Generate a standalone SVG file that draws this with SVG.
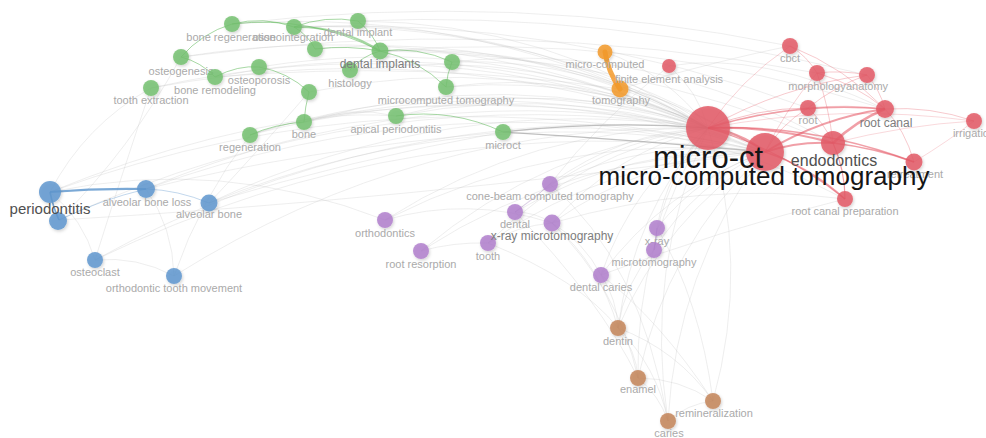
<svg xmlns="http://www.w3.org/2000/svg" width="986" height="438" viewBox="0 0 986 438">
<style>
.e{fill:none;stroke:#bdbdbd;stroke-opacity:.32;stroke-width:.8}
.ed{fill:none;stroke:#8a8a8a;stroke-opacity:.55;stroke-width:1.2}
.er{fill:none;stroke:#e3505e;stroke-opacity:.55;stroke-width:1}
.eg{fill:none;stroke:#5fb85a;stroke-opacity:.55;stroke-width:1}
.eb{fill:none;stroke:#4f8cc8;stroke-opacity:.75;stroke-width:1.6}
.eo{fill:none;stroke:#f39a2b;stroke-opacity:.85;stroke-width:5;stroke-linecap:round}
.ep{fill:none;stroke:#9a6cc0;stroke-opacity:.6;stroke-width:1}
.n{fill-opacity:.85;filter:url(#sh)}
.g{fill:#74c170}.r{fill:#e35a66}.b{fill:#5f97cf}.p{fill:#b07fcc}.o{fill:#f39a2b}.w{fill:#c4855a}
text{font-family:"Liberation Sans",Arial,sans-serif;text-anchor:middle}
.l{font-size:11px;fill:#aaaaaa}
.m{font-size:12px;fill:#7d7d7d}
.k{font-size:15px;fill:#505050}
.big{fill:#151515}
</style>
<defs>
<filter id="sh" x="-50%" y="-50%" width="200%" height="200%">
<feDropShadow dx="1" dy="1.5" stdDeviation="1.5" flood-color="#000" flood-opacity=".2"/>
</filter>
</defs>
<rect width="986" height="438" fill="#fff"/>
<g id="connectors">
<path class="e" d="M232 24Q486 5 708 128"/>
<path class="e" d="M294 27Q516 15 708 128"/>
<path class="e" d="M358 21Q549 22 708 128"/>
<path class="e" d="M315 49Q523 30 708 128"/>
<path class="e" d="M380 51Q556 40 708 128"/>
<path class="e" d="M350 70Q538 45 708 128"/>
<path class="e" d="M181 57Q455 13 708 128"/>
<path class="e" d="M215 77Q469 29 708 128"/>
<path class="e" d="M259 67Q493 30 708 128"/>
<path class="e" d="M151 88Q436 24 708 128"/>
<path class="e" d="M309 92Q514 50 708 128"/>
<path class="e" d="M304 122Q507 64 708 128"/>
<path class="e" d="M250 135Q478 63 708 128"/>
<path class="e" d="M452 62Q590 57 708 128"/>
<path class="e" d="M446 87Q583 68 708 128"/>
<path class="e" d="M396 116Q554 75 708 128"/>
<path class="ed" d="M503 132Q605 120 708 128"/>
<path class="e" d="M50 192Q369 61 708 128"/>
<path class="e" d="M59 220Q370 77 708 128"/>
<path class="e" d="M146 189Q418 74 708 128"/>
<path class="e" d="M209 203Q447 91 708 128"/>
<path class="e" d="M95 260Q382 102 708 128"/>
<path class="e" d="M174 276Q419 122 708 128"/>
<path class="e" d="M550 184Q621 132 708 128"/>
<path class="e" d="M515 212Q599 141 708 128"/>
<path class="e" d="M552 223Q616 152 708 128"/>
<path class="e" d="M385 220Q533 126 708 128"/>
<path class="e" d="M421 251Q546 146 708 128"/>
<path class="e" d="M488 243Q581 152 708 128"/>
<path class="e" d="M657 228Q667 170 708 128"/>
<path class="e" d="M654 250Q663 181 708 128"/>
<path class="e" d="M601 275Q632 185 708 128"/>
<path class="e" d="M618 328Q633 214 708 128"/>
<path class="e" d="M638 378Q635 242 708 128"/>
<path class="e" d="M708 128Q751 264 713 401"/>
<path class="e" d="M668 421Q644 268 708 128"/>
<path class="e" d="M605 52Q668 74 708 128"/>
<path class="e" d="M620 89Q670 95 708 128"/>
<path class="e" d="M669 66Q698 91 708 128"/>
<path class="e" d="M50 192Q401 65 765 152"/>
<path class="e" d="M146 189Q450 78 765 152"/>
<path class="e" d="M209 203Q479 94 765 152"/>
<path class="e" d="M304 122Q539 68 765 152"/>
<path class="e" d="M250 135Q510 66 765 152"/>
<path class="e" d="M380 51Q588 44 765 152"/>
<path class="e" d="M294 27Q548 19 765 152"/>
<path class="e" d="M396 116Q586 79 765 152"/>
<path class="ed" d="M503 132Q637 140 765 152"/>
<path class="e" d="M552 223Q648 155 765 152"/>
<path class="e" d="M515 212Q631 144 765 152"/>
<path class="e" d="M488 243Q613 156 765 152"/>
<path class="e" d="M618 328Q665 218 765 152"/>
<path class="e" d="M638 378Q667 246 765 152"/>
<path class="e" d="M601 275Q664 189 765 152"/>
<path class="e" d="M654 250Q695 184 765 152"/>
<path class="e" d="M385 220Q565 129 765 152"/>
<path class="e" d="M95 260Q414 105 765 152"/>
<path class="e" d="M151 88Q468 28 765 152"/>
<path class="e" d="M446 87Q615 72 765 152"/>
<path class="e" d="M668 421Q676 272 765 152"/>
<path class="e" d="M550 184Q653 136 765 152"/>
<path class="e" d="M421 251Q578 150 765 152"/>
<path class="e" d="M657 228Q700 174 765 152"/>
<path class="e" d="M59 220Q400 200 765 152"/>
<path class="e" d="M50 192Q83 219 95 260"/>
<path class="e" d="M146 189Q173 228 174 276"/>
<path class="e" d="M95 260Q137 256 174 276"/>
<path class="e" d="M50 192Q85 125 151 88"/>
<path class="e" d="M50 192Q222 156 385 220"/>
<path class="e" d="M385 220Q468 196 552 223"/>
<path class="e" d="M421 251Q453 242 488 243"/>
<path class="e" d="M488 243Q517 226 552 223"/>
<path class="e" d="M515 212Q535 212 552 223"/>
<path class="e" d="M601 275Q617 299 618 328"/>
<path class="e" d="M618 328Q636 350 638 378"/>
<path class="e" d="M638 378Q659 395 668 421"/>
<path class="e" d="M638 378Q679 378 713 401"/>
<path class="e" d="M668 421Q687 404 713 401"/>
<path class="e" d="M618 328Q677 350 713 401"/>
<path class="e" d="M552 223Q601 266 618 328"/>
<path class="e" d="M552 223Q584 242 601 275"/>
<path class="e" d="M618 328Q657 367 668 421"/>
<path class="e" d="M618 328Q624 284 654 250"/>
<path class="e" d="M552 223Q618 288 638 378"/>
<path class="e" d="M657 228Q700 300 713 401"/>
<path class="e" d="M550 184Q640 260 668 421"/>
<path class="e" d="M515 212Q600 300 638 378"/>
<path class="e" d="M488 243Q580 280 618 328"/>
<path class="e" d="M601 275Q660 320 713 401"/>
<path class="e" d="M215 77Q419 60 620 89"/>
<path class="e" d="M232 24Q513 -10 790 46"/>
<path class="e" d="M294 27Q559 16 808 108"/>
<path class="e" d="M380 51Q638 30 885 109"/>
<path class="e" d="M380 51Q616 52 833 143"/>
<path class="e" d="M181 57Q500 14 817 73"/>
<path class="e" d="M358 21Q600 10 867 75"/>
<path class="e" d="M452 62Q650 40 833 143"/>
<path class="e" d="M503 132Q680 110 845 199"/>
<path class="e" d="M552 223Q700 180 845 199"/>
<path class="e" d="M146 189Q300 150 503 132"/>
<path class="e" d="M209 203Q350 160 503 132"/>
<path class="e" d="M250 135Q320 110 396 116"/>
<path class="e" d="M304 122Q350 105 396 116"/>
<path class="e" d="M550 184Q600 120 669 66"/>
<path class="e" d="M620 89Q720 60 790 46"/>
<path class="e" d="M601 275Q720 230 845 199"/>
<path class="e" d="M669 66Q760 50 885 109"/>
<path class="e" d="M151 88Q120 180 95 260"/>
<path class="e" d="M181 57Q130 150 59 220"/>
<path class="e" d="M250 135Q200 200 174 276"/>
<path class="e" d="M309 92Q250 160 209 203"/>
<path class="eg" d="M232 24Q263 16 294 27"/>
<path class="eg" d="M294 27Q325 15 358 21"/>
<path class="eg" style="stroke-width:2" d="M294 27Q341 26 380 51"/>
<path class="eg" d="M294 27Q308 35 315 49"/>
<path class="eg" d="M358 21Q373 33 380 51"/>
<path class="eg" d="M232 24Q310 15 380 51"/>
<path class="eg" d="M350 70Q362 56 380 51"/>
<path class="eg" d="M315 49Q348 45 380 51"/>
<path class="eg" d="M380 51Q417 46 452 62"/>
<path class="eg" d="M181 57Q201 62 215 77"/>
<path class="eg" d="M215 77Q238 65 259 67"/>
<path class="eg" d="M181 57Q202 33 232 24"/>
<path class="eg" d="M259 67Q288 72 309 92"/>
<path class="eg" d="M304 122Q305 107 309 92"/>
<path class="eg" d="M250 135Q275 124 304 122"/>
<path class="eg" d="M446 87Q447 74 452 62"/>
<path class="eg" d="M396 116Q452 108 503 132"/>
<path class="eg" d="M380 51Q418 59 446 87"/>
<path class="eb" style="stroke-width:2.2" d="M50 192Q98 188 146 189"/>
<path class="eb" d="M50 192Q53 207 59 220"/>
<path class="eb" style="stroke-opacity:.35;stroke-width:1" d="M59 220Q100 200 146 189"/>
<path class="eb" style="stroke-opacity:.35;stroke-width:1" d="M146 189Q178 190 209 203"/>
<path class="ep" d="M654 250Q656 239 657 228"/>
<path class="ep" style="stroke-opacity:.3" d="M515 212Q533 200 550 184"/>
<path class="eo" d="M605 52Q608 72 620 89"/>
<path class="er" style="stroke-width:2.5" d="M708 128Q740 132 765 152"/>
<path class="er" style="stroke-width:2" d="M708 128Q772 126 833 143"/>
<path class="er" style="stroke-width:1.5" d="M708 128Q795 101 885 109"/>
<path class="er" style="stroke-width:1.5" d="M708 128Q814 124 914 162"/>
<path class="er" style="stroke-width:2" d="M765 152Q798 141 833 143"/>
<path class="er" style="stroke-width:2" d="M765 152Q821 118 885 109"/>
<path class="er" style="stroke-width:1.5" d="M765 152Q810 167 845 199"/>
<path class="er" style="stroke-width:2.5" d="M833 143Q856 121 885 109"/>
<path class="er" style="stroke-width:1.5" d="M833 143Q875 148 914 162"/>
<path class="er" style="stroke-width:1.2" d="M833 143Q845 170 845 199"/>
<path class="er" style="stroke-width:1.2" d="M708 128Q784 150 845 199"/>
<path class="er" style="stroke-opacity:.3" d="M885 109Q930 106 974 121"/>
<path class="er" style="stroke-opacity:.3" d="M808 108Q846 104 885 109"/>
<path class="er" style="stroke-opacity:.3" d="M817 73Q855 84 885 109"/>
<path class="er" style="stroke-opacity:.3" d="M867 75Q880 90 885 109"/>
<path class="er" style="stroke-opacity:.3" d="M790 46Q807 56 817 73"/>
<path class="er" style="stroke-opacity:.3" d="M790 46Q845 68 885 109"/>
<path class="er" style="stroke-opacity:.35" d="M708 128Q756 108 808 108"/>
<path class="er" style="stroke-opacity:.3" d="M808 108Q824 123 833 143"/>
<path class="er" style="stroke-opacity:.3" d="M817 73Q829 107 833 143"/>
<path class="er" style="stroke-opacity:.3" d="M708 128Q782 86 867 75"/>
<path class="er" style="stroke-opacity:.22" d="M708 128Q840 103 974 121"/>
<path class="er" style="stroke-opacity:.22" d="M833 143Q905 125 974 121"/>
<path class="er" style="stroke-opacity:.3" d="M765 152Q780 125 808 108"/>
<path class="er" style="stroke-opacity:.3" d="M885 109Q905 130 914 162"/>
<path class="er" style="stroke-opacity:.3" d="M817 73Q842 70 867 75"/>
<path class="er" style="stroke-opacity:.3" d="M808 108Q835 86 867 75"/>
<path class="er" style="stroke-opacity:.25" d="M708 128Q740 80 790 46"/>
<path class="er" style="stroke-opacity:.25" d="M765 152Q785 110 817 73"/>
<path class="er" style="stroke-opacity:.22" d="M914 162Q950 140 974 121"/>
</g>
<g id="n-bone-regeneration"><circle class="n g" cx="232" cy="24" r="8"/><text class="l" x="231" y="41">bone regeneration</text></g>
<g id="n-osseointegration"><circle class="n g" cx="294" cy="27" r="8"/><text class="l" x="293" y="41">osseointegration</text></g>
<g id="n-dental-implant"><circle class="n g" cx="358" cy="21" r="8"/><text class="l" x="358" y="36">dental implant</text></g>
<g id="n-green-a"><circle class="n g" cx="315" cy="49" r="8"/></g>
<g id="n-histology"><circle class="n g" cx="350" cy="70" r="8"/><text class="l" x="350" y="87">histology</text></g>
<g id="n-dental-implants"><circle class="n g" cx="380" cy="51" r="8.5"/><text class="m" x="380" y="68">dental implants</text></g>
<g id="n-osteogenesis"><circle class="n g" cx="181" cy="57" r="8"/><text class="l" x="181" y="75">osteogenesis</text></g>
<g id="n-bone-remodeling"><circle class="n g" cx="215" cy="77" r="8"/><text class="l" x="215" y="94">bone remodeling</text></g>
<g id="n-osteoporosis"><circle class="n g" cx="259" cy="67" r="8"/><text class="l" x="259" y="84">osteoporosis</text></g>
<g id="n-tooth-extraction"><circle class="n g" cx="151" cy="88" r="8"/><text class="l" x="151" y="104">tooth extraction</text></g>
<g id="n-green-b"><circle class="n g" cx="309" cy="92" r="8"/></g>
<g id="n-bone"><circle class="n g" cx="304" cy="122" r="8"/><text class="l" x="304" y="138">bone</text></g>
<g id="n-regeneration"><circle class="n g" cx="250" cy="135" r="8"/><text class="l" x="250" y="151">regeneration</text></g>
<g id="n-green-c"><circle class="n g" cx="452" cy="62" r="8"/></g>
<g id="n-microcomputed-tomography"><circle class="n g" cx="446" cy="87" r="8"/><text class="l" x="446" y="104">microcomputed tomography</text></g>
<g id="n-apical-periodontitis"><circle class="n g" cx="396" cy="116" r="8"/><text class="l" x="396" y="133">apical periodontitis</text></g>
<g id="n-microct"><circle class="n g" cx="503" cy="132" r="8"/><text class="l" x="503" y="149">microct</text></g>
<g id="n-micro-computed"><circle class="n o" cx="605" cy="52" r="7.5"/><text class="l" x="605" y="68">micro-computed</text></g>
<g id="n-tomography"><circle class="n o" cx="620" cy="89" r="8.5"/><text class="l" x="621" y="104">tomography</text></g>
<g id="n-finite-element-analysis"><circle class="n r" cx="669" cy="66" r="7"/><text class="l" x="669" y="83">finite element analysis</text></g>
<g id="n-alveolar-bone-loss"><circle class="n b" cx="146" cy="189" r="9"/><text class="l" x="147" y="206">alveolar bone loss</text></g>
<g id="n-alveolar-bone"><circle class="n b" cx="209" cy="203" r="8.5"/><text class="l" x="209" y="218">alveolar bone</text></g>
<g id="n-osteoclast"><circle class="n b" cx="95" cy="260" r="8"/><text class="l" x="95" y="276">osteoclast</text></g>
<g id="n-orthodontic-tooth-movement"><circle class="n b" cx="174" cy="276" r="8"/><text class="l" x="174" y="292">orthodontic tooth movement</text></g>
<g id="n-blue-a"><circle class="n b" cx="58" cy="221" r="9"/></g>
<g id="n-periodontitis"><circle class="n b" cx="50" cy="192" r="11"/><text class="k" x="50" y="214">periodontitis</text></g>
<g id="n-cone-beam-computed-tomography"><circle class="n p" cx="550" cy="184" r="8"/><text class="l" x="550" y="200">cone-beam computed tomography</text></g>
<g id="n-dental"><circle class="n p" cx="515" cy="212" r="8"/><text class="l" x="515" y="228">dental</text></g>
<g id="n-orthodontics"><circle class="n p" cx="385" cy="220" r="8"/><text class="l" x="385" y="237">orthodontics</text></g>
<g id="n-root-resorption"><circle class="n p" cx="421" cy="251" r="8"/><text class="l" x="421" y="268">root resorption</text></g>
<g id="n-tooth"><circle class="n p" cx="488" cy="243" r="8"/><text class="l" x="488" y="260">tooth</text></g>
<g id="n-x-ray-microtomography"><circle class="n p" cx="552" cy="223" r="8.5"/><text class="m" x="552" y="240">x-ray microtomography</text></g>
<g id="n-x-ray"><circle class="n p" cx="657" cy="228" r="8"/><text class="l" x="657" y="245">x-ray</text></g>
<g id="n-microtomography"><circle class="n p" cx="654" cy="250" r="8"/><text class="l" x="654" y="266">microtomography</text></g>
<g id="n-dental-caries"><circle class="n p" cx="601" cy="275" r="8"/><text class="l" x="601" y="291">dental caries</text></g>
<g id="n-dentin"><circle class="n w" cx="618" cy="328" r="8"/><text class="l" x="618" y="345">dentin</text></g>
<g id="n-enamel"><circle class="n w" cx="638" cy="378" r="8"/><text class="l" x="638" y="393">enamel</text></g>
<g id="n-remineralization"><circle class="n w" cx="713" cy="401" r="8"/><text class="l" x="714" y="417">remineralization</text></g>
<g id="n-caries"><circle class="n w" cx="668" cy="421" r="8"/><text class="l" x="669" y="437">caries</text></g>
<g id="n-cbct"><circle class="n r" cx="790" cy="46" r="8"/><text class="l" x="790" y="62">cbct</text></g>
<g id="n-morphology"><circle class="n r" cx="817" cy="73" r="8"/><text class="l" x="817" y="90">morphology</text></g>
<g id="n-anatomy"><circle class="n r" cx="867" cy="75" r="8"/><text class="l" x="867" y="90">anatomy</text></g>
<g id="n-root"><circle class="n r" cx="808" cy="108" r="8"/><text class="l" x="808" y="124">root</text></g>
<g id="n-root-canal"><circle class="n r" cx="885" cy="109" r="9"/><text class="m" x="886" y="127">root canal</text></g>
<g id="n-irrigation"><circle class="n r" cx="974" cy="121" r="8"/><text class="l" x="974" y="137">irrigation</text></g>
<g id="n-retreatment"><circle class="n r" cx="914" cy="162" r="8.5"/><text class="l" x="915" y="178">retreatment</text></g>
<g id="n-root-canal-preparation"><circle class="n r" cx="845" cy="199" r="8"/><text class="l" x="845" y="215">root canal preparation</text></g>
<g id="n-endodontics"><circle class="n r" cx="833" cy="143" r="12"/><text class="k" style="font-size:16px" x="834" y="166">endodontics</text></g>
<g id="n-micro-computed-tomography"><circle class="n r" cx="765" cy="152" r="19"/><text class="big" style="font-size:26px" x="764" y="185">micro-computed tomography</text></g>
<g id="n-micro-ct"><circle class="n r" cx="708" cy="128" r="22"/><text class="big" style="font-size:31px" x="708" y="168">micro-ct</text></g>
</svg>
